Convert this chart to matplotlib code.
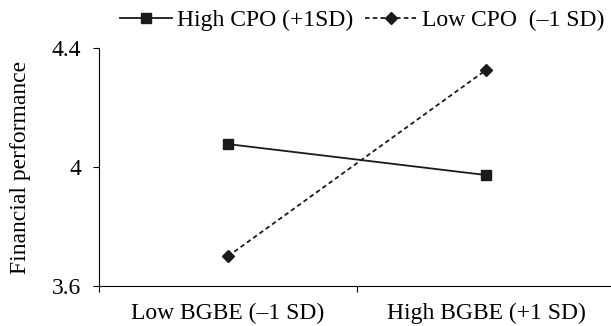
import numpy as np
import matplotlib.pyplot as plt

plt.rcParams["font.family"] = ["Liberation Serif", "DejaVu Serif"]

categories = ["Low BGBE (\u20131 SD)", "High BGBE (+1 SD)"]
high_cpo = [4.077, 3.973]
low_cpo = [3.70, 4.326]
y_ticks = [3.6, 4.0, 4.4]
y_labels = ["3.6", "4", "4.4"]

fig = plt.figure(figsize=(6.11, 3.26), dpi=100)
ax = fig.add_axes([99 / 611, 40 / 326, 516 / 611, 238 / 326])

x = np.array([0.5, 1.5])
ax.plot(x, high_cpo, color="#1a1a1a", lw=1.3, marker="s", ms=7,
        label="High CPO (+1SD)")
ax.plot(x, low_cpo, color="#1a1a1a", lw=1.3, ls=(0, (2.5, 1.8)), marker="D", ms=6,
        label="Low CPO  (\u20131 SD)")

ax.set_xlim(0, 2)
ax.set_ylim(3.6, 4.4)
ax.set_yticks(y_ticks)
ax.set_yticklabels(y_labels)
ax.set_xticks([0, 1, 2])
ax.set_xticklabels([])
ax.set_xticks(x, minor=True)
ax.set_xticklabels(categories, minor=True)
ax.tick_params(axis="x", which="minor", length=0, pad=12, labelsize=17)
ax.tick_params(axis="x", which="major", length=4.5, direction="out", width=0.8)
ax.tick_params(axis="y", length=4, direction="out", width=0.8, labelsize=17, pad=9)
ax.set_ylabel("Financial performance", fontsize=17)
ax.yaxis.set_label_coords(-0.131, 0.5)

for s in ["top", "right"]:
    ax.spines[s].set_visible(False)
for s in ["left", "bottom"]:
    ax.spines[s].set_linewidth(0.8)

fig.legend(loc="upper center", bbox_to_anchor=(0.593, 1.035), ncol=2, frameon=False,
           fontsize=17, handlelength=2.2, handletextpad=0.2, columnspacing=0.5)

fig.savefig("out.png", dpi=100)
